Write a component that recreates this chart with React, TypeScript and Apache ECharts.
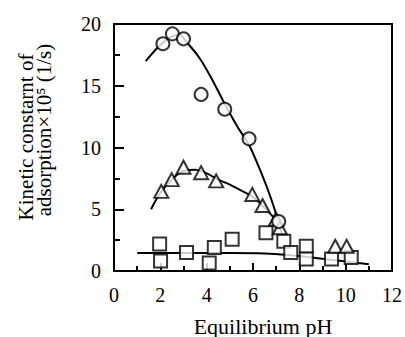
import React, { useEffect, useRef } from "react";
import * as echarts from "echarts";

const xTicks = [0, 2, 4, 6, 8, 10, 12];
const yTicks = [0, 5, 10, 15, 20];

const circleX = [2.11, 2.52, 3.0, 3.76, 4.78, 5.83, 7.11];
const circleY = [18.4, 19.2, 18.8, 14.3, 13.1, 10.7, 4.0];

const triangleX = [2.04, 2.49, 3.0, 3.76, 4.41, 5.97, 6.41, 6.99, 7.16, 9.55, 10.04];
const triangleY = [6.45, 7.4, 8.4, 7.96, 7.3, 6.2, 5.3, 4.2, 3.5, 2.0, 2.0];

const squareX = [1.97, 2.01, 3.13, 4.11, 4.33, 5.1, 6.56, 7.33, 7.63, 8.3, 8.3, 9.39, 10.24];
const squareY = [2.18, 0.8, 1.5, 0.65, 1.9, 2.58, 3.1, 2.4, 1.5, 2.0, 0.97, 0.97, 1.1];

const circleFitX = [1.37, 1.89, 2.4, 2.83, 3.17, 3.69, 4.2, 4.76, 5.31, 5.83, 6.34, 6.77, 7.16, 7.24];
const circleFitY = [17.0, 18.1, 18.9, 19.1, 18.46, 17.25, 15.63, 13.6, 11.74, 10.2, 8.02, 5.91, 3.64, 3.08];

const triangleFitX = [1.6, 2.0, 2.5, 3.0, 3.5, 4.0, 4.5, 5.0, 5.5, 6.0, 6.5, 7.0, 7.2];
const triangleFitY = [5.0, 6.3, 7.4, 8.1, 8.2, 7.9, 7.4, 7.0, 6.5, 6.0, 5.1, 4.1, 3.5];

const squareFitX = [1.0, 3.0, 5.0, 6.5, 7.5, 9.0, 11.0];
const squareFitY = [1.45, 1.45, 1.45, 1.42, 1.3, 1.0, 0.55];

const xTitle = "Equilibrium pH";
const yTitle1 = "Kinetic constarnt of";
const yTitle2 = "adsorption×10⁵ (1/s)";

const zip = (xs: number[], ys: number[]) => xs.map((x, i) => [x, ys[i]]);

export default function App() {
  const ref = useRef<HTMLDivElement>(null);
  useEffect(() => {
    if (!ref.current) return;
    const chart = echarts.init(ref.current, null, { renderer: "svg" });
    const font = "'Liberation Serif', 'DejaVu Serif', serif";
    const lineS = { color: "#000", width: 2 };
    const markerStyle = { color: "#fff", borderColor: "#000", borderWidth: 2 };
    chart.setOption({
      animation: false,
      backgroundColor: "#fff",
      textStyle: { fontFamily: font },
      grid: {
        left: 114,
        right: 10,
        top: 24,
        bottom: 66,
        show: true,
        borderColor: "#000",
        borderWidth: 2,
        backgroundColor: "transparent",
      },
      xAxis: {
        type: "value",
        min: xTicks[0],
        max: xTicks[xTicks.length - 1],
        interval: 2,
        axisLine: { show: true, lineStyle: { color: "#000", width: 2 } },
        axisTick: { show: true, inside: true, length: 8, lineStyle: { color: "#000", width: 2 } },
        minorTick: { show: true, splitNumber: 2, length: 5, lineStyle: { color: "#000", width: 2 } },
        splitLine: { show: false },
        axisLabel: { color: "#000", fontFamily: font, fontSize: 20, margin: 14 },
      },
      yAxis: {
        type: "value",
        min: yTicks[0],
        max: yTicks[yTicks.length - 1],
        interval: 5,
        axisLine: { show: true, lineStyle: { color: "#000", width: 2 } },
        axisTick: { show: true, inside: true, length: 10, lineStyle: { color: "#000", width: 2 } },
        minorTick: { show: true, splitNumber: 2, length: 6, lineStyle: { color: "#000", width: 2 } },
        splitLine: { show: false },
        axisLabel: { color: "#000", fontFamily: font, fontSize: 20, margin: 13 },
      },
      graphic: [
        {
          type: "text",
          x: 263,
          y: 326,
          style: {
            text: xTitle,
            fill: "#000",
            fontFamily: font,
            fontSize: 22,
            align: "center",
            verticalAlign: "middle",
          },
        },
        {
          type: "text",
          x: 26,
          y: 137,
          rotation: Math.PI / 2,
          style: {
            text: yTitle1,
            fill: "#000",
            fontFamily: font,
            fontSize: 21,
            align: "center",
            verticalAlign: "middle",
          },
        },
        {
          type: "text",
          x: 44,
          y: 130,
          rotation: Math.PI / 2,
          style: {
            text: yTitle2,
            fill: "#000",
            fontFamily: font,
            fontSize: 21,
            align: "center",
            verticalAlign: "middle",
          },
        },
      ],
      series: [
        {
          type: "line",
          data: zip(circleFitX, circleFitY),
          smooth: 0.3,
          showSymbol: false,
          lineStyle: lineS,
          z: 1,
        },
        {
          type: "line",
          data: zip(triangleFitX, triangleFitY),
          smooth: 0.4,
          showSymbol: false,
          lineStyle: lineS,
          z: 1,
        },
        {
          type: "line",
          data: zip(squareFitX, squareFitY),
          smooth: 0.4,
          showSymbol: false,
          lineStyle: lineS,
          z: 1,
        },
        {
          type: "scatter",
          data: zip(squareX, squareY),
          symbol: "rect",
          symbolSize: 13,
          itemStyle: markerStyle,
          z: 3,
        },
        {
          type: "scatter",
          data: zip(triangleX, triangleY),
          symbol: "triangle",
          symbolSize: [14, 13],
          itemStyle: markerStyle,
          z: 4,
        },
        {
          type: "scatter",
          data: zip(circleX, circleY),
          symbol: "circle",
          symbolSize: 13,
          itemStyle: markerStyle,
          z: 5,
        },
      ],
    });
    return () => chart.dispose();
  }, []);
  return (
    <div
      ref={ref}
      style={{ position: "absolute", left: 0, top: 0, width: 405, height: 337 }}
    />
  );
}
